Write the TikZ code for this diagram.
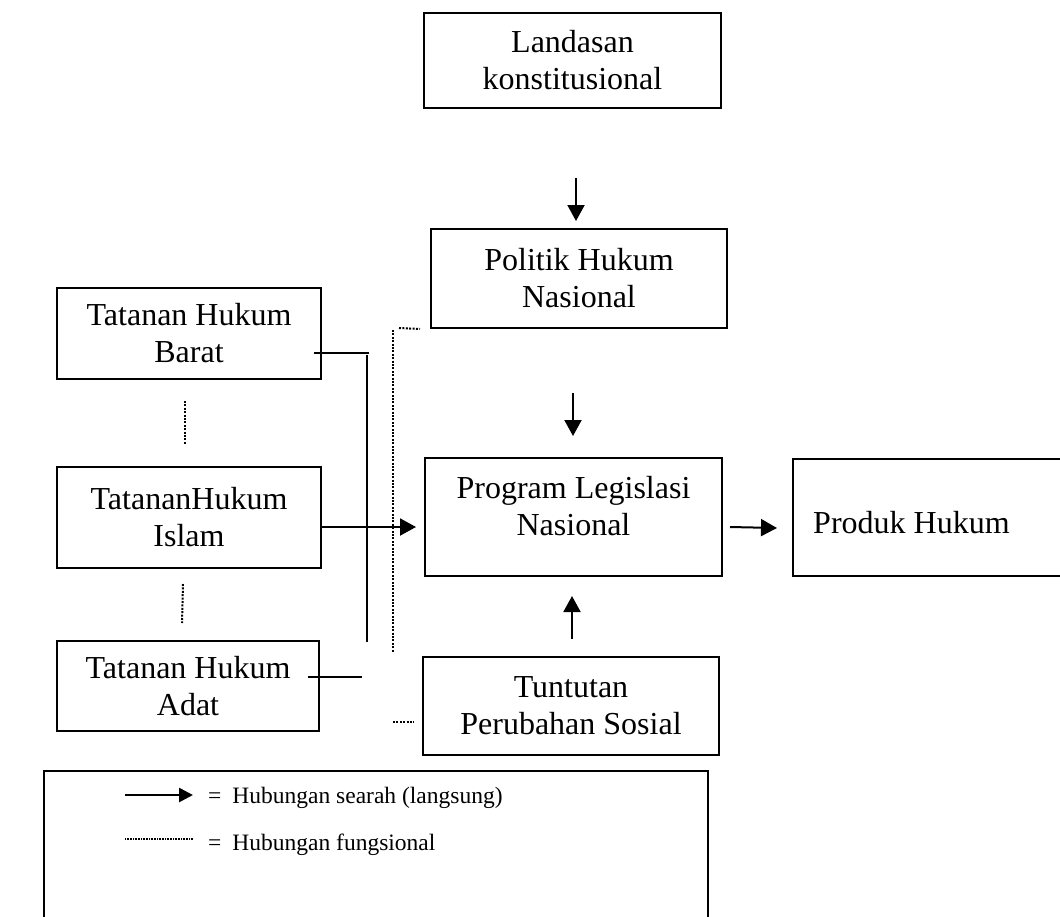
\documentclass[tikz,border=0pt]{standalone}
\usepackage{fontspec}
\setmainfont{Liberation Serif}
\usetikzlibrary{arrows.meta}
\newcommand\mfont{\fontsize{32pt}{37pt}\selectfont}
\newcommand\lfont{\fontsize{23.5pt}{28pt}\selectfont}
\begin{document}
\begin{tikzpicture}[x=1pt,y=-1pt,
  box/.style={draw,line width=2pt,inner sep=0pt,align=center,font=\mfont},
  txt/.style={inner sep=0pt,align=center,font=\mfont},
  arr/.style={line width=2pt,-{Triangle[length=16pt,width=17pt]}},
  conn/.style={line width=2pt},
  dotline/.style={line width=2pt,dash pattern=on 2pt off 1.4pt},
  legarr/.style={line width=2.6pt,-{Triangle[length=14pt,width=14pt]}},
  legdot/.style={line width=2pt,dash pattern=on 1pt off 0.6pt},
  legtxt/.style={inner sep=0pt,font=\lfont,anchor=base west}]
\useasboundingbox (0,0) rectangle (1060,916);

% boxes
\node[box,minimum width=297pt,minimum height=95pt] (land) at (572.5,60.5) {Landasan\\konstitusional};
\node[box,minimum width=296pt,minimum height=99pt] (pol) at (579,278.5) {Politik Hukum\\Nasional};
\node[box,minimum width=264pt,minimum height=91pt] (barat) at (189,333.5) {Tatanan Hukum\\Barat};
\node[box,minimum width=264pt,minimum height=101pt] (islam) at (189,517.5) {TatananHukum\\Islam};
\node[box,minimum width=262pt,minimum height=90pt] (adat) at (188,686) {Tatanan Hukum\\Adat};
\node[box,minimum width=297pt,minimum height=118pt] (prog) at (573.5,517) {};
\node[txt] (progt) at (573.5,506) {Program Legislasi\\Nasional};
\node[box,minimum width=290pt,minimum height=117pt,anchor=north west] (prod) at (792,458) {};
\node[txt,anchor=base west] (prodt) at (813,533) {Produk Hukum};
\node[box,minimum width=296pt,minimum height=98pt] (tunt) at (571,706) {Tuntutan\\Perubahan Sosial};

% arrows
\draw[arr] ([xshift=3.5pt,yshift=-69pt]land.south) -- ([xshift=-3pt,yshift=7pt]pol.north);
\draw[arr] ([xshift=-6pt,yshift=-64pt]pol.south) -- ([xshift=-0.5pt,yshift=21pt]prog.north);
\draw[arr] ([xshift=1pt,yshift=17pt]tunt.north) -- ([xshift=-1.5pt,yshift=-19pt]prog.south);
\draw[arr] ([xshift=7pt,yshift=-10pt]prog.east) -- ([xshift=-15pt,yshift=-10.5pt]prod.west);
\draw[arr] ([yshift=-9.5pt]islam.east) -- ([xshift=-8pt,yshift=-10pt]prog.west);

% solid connectors
\coordinate (btip) at (369,353);
\coordinate (vtop) at (367,355);
\coordinate (vbot) at (367,642);
\coordinate (atip) at (362,677);
\draw[conn] ([xshift=-8pt,yshift=-19.5pt]barat.east) -- (btip);
\draw[conn] (vtop) -- (vbot);
\draw[conn] ([xshift=-12pt,yshift=9pt]adat.east) -- (atip);

% dotted connectors
\coordinate (dtop) at (393,330);
\coordinate (dbot) at (393,652);
\coordinate (dh1) at (399,328);
\coordinate (dh2) at (393,722);
\draw[dotline] (dtop) -- (dbot);
\draw[dotline] (dh1) -- ([xshift=-10pt]pol.south west);
\draw[dotline] (dh2) -- ([xshift=-8pt,yshift=-16pt]tunt.west);
\draw[dotline] ([xshift=-4pt,yshift=-21pt]barat.south) -- ([xshift=-4pt,yshift=22pt]islam.north);
\draw[dotline] ([xshift=-6pt,yshift=-15pt]islam.south) -- ([xshift=-6pt,yshift=17pt]adat.north);

% legend
\node[draw,line width=2pt,inner sep=0pt,anchor=north west,minimum width=664pt,minimum height=170pt] (leg) at (43,770) {};
\coordinate (la1) at (125,795);
\coordinate (la2) at (193,795);
\coordinate (ld1) at (125,839);
\coordinate (ld2) at (193,839);
\draw[legarr] (la1) -- (la2);
\draw[legdot] (ld1) -- (ld2);
\node[legtxt] (lt1) at (208,803) {=\hspace{11pt}Hubungan searah (langsung)};
\node[legtxt] (lt2) at (208,850) {=\hspace{11pt}Hubungan fungsional};
\end{tikzpicture}
\end{document}
